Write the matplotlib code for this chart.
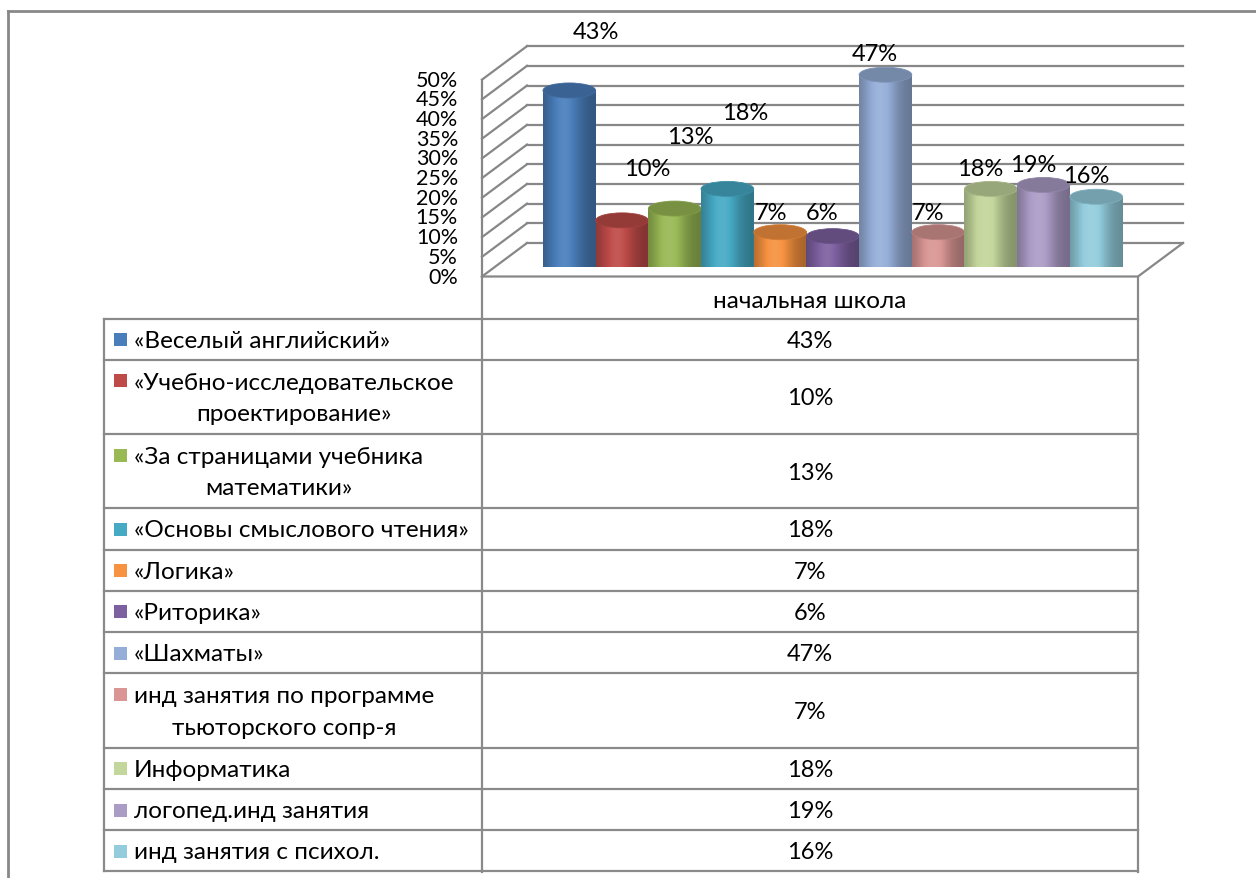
import numpy as np
import matplotlib
matplotlib.use("Agg")
import matplotlib.pyplot as plt
from matplotlib.patches import Ellipse, Polygon, Rectangle

# данные
categories = [
    "«Веселый английский»",
    "«Учебно-исследовательское\nпроектирование»",
    "«За страницами учебника\nматематики»",
    "«Основы смыслового чтения»",
    "«Логика»",
    "«Риторика»",
    "«Шахматы»",
    "инд занятия по программе\nтьюторского сопр-я",
    "Информатика",
    "логопед.инд занятия",
    "инд занятия с психол.",
]
values = [43, 10, 13, 18, 7, 6, 47, 7, 18, 19, 16]
colors = ["#4A7EBB", "#BE4B48", "#98B954", "#46AAC5", "#F69240", "#7D60A0",
          "#95AED8", "#D99694", "#C3D69B", "#AB9CC6", "#93CDDD"]
group_label = "начальная школа"
y_ticks = [0, 5, 10, 15, 20, 25, 30, 35, 40, 45, 50]

# смещения подписей (как у Excel), в единицах осей
label_dx = [0.51, 0.47, 0.30, 0.33, -0.17, -0.21, -0.20, -0.19, -0.21, -0.20, -0.19]
label_dy = [14.85, 13.3, 18.4, 19.3, 4.9, 5.9, 5.3, 4.9, 5.3, 5.1, 5.3]

FONT = ["Lato", "Open Sans", "DejaVu Sans"]
plt.rcParams["font.family"] = FONT

W, H = 1256, 879
fig = plt.figure(figsize=(W / 100, H / 100), dpi=100)

# фон / таблица в пикселях
bg = fig.add_axes([0, 0, 1, 1], zorder=0)
bg.set_xlim(0, W)
bg.set_ylim(H, 0)
bg.axis("off")

# область диаграммы (средняя плоскость глубины)
x0px, x1px, ytop, ybot = 504.5, 1160.5, 63.9, 260.75
ax = fig.add_axes([x0px / W, 1 - ybot / H, (x1px - x0px) / W, (ybot - ytop) / H], zorder=1)
ax.patch.set_alpha(0)
ax.axis("off")
xl, xr = -1.23, 11.22
ax.set_xlim(xl, xr)
ax.set_ylim(0, 50)
px_x = (x1px - x0px) / (xr - xl)
px_y = (ybot - ytop) / 50.0
ddx = 22.5 / px_x
ddy = 16.75 / px_y

gcol = "#878787"
glw = 1.6

# задняя стенка и боковая стенка
for t in y_ticks:
    ax.plot([xl + ddx, xr + ddx], [t + ddy, t + ddy], color=gcol, lw=glw, clip_on=False, zorder=1)
    ax.plot([xl - ddx, xl + ddx], [t - ddy, t + ddy], color=gcol, lw=glw, clip_on=False, zorder=1)
    ax.text(xl - ddx - 24 / px_x, t - ddy, f"{t}%", ha="right", va="center",
            fontsize=15.5, clip_on=False)
# пол и передняя грань
ax.plot([xl - ddx, xl - ddx], [-ddy, 50 - ddy], color=gcol, lw=glw, clip_on=False, zorder=1)
ax.plot([xl - ddx, xr - ddx, xr + ddx], [-ddy, -ddy, ddy], color=gcol, lw=glw, clip_on=False, zorder=1)


def shade(rgb, f):
    rgb = np.asarray(rgb)
    if f <= 1:
        return rgb * f
    return rgb + (1 - rgb) * (f - 1)


prof_t = np.linspace(0, 1, 64)
profile = 0.68 + 0.40 * np.exp(-((prof_t - 0.40) / 0.32) ** 2)

bw = 1.0
eh = 15 / px_y
for i, (v, c) in enumerate(zip(values, colors)):
    base = np.array(matplotlib.colors.to_rgb(c))
    grad = np.array([[shade(base, f) for f in profile]])
    zb = 2 + i * 0.1
    im = ax.imshow(grad, extent=(i - bw / 2, i + bw / 2, -eh / 2, v), aspect="auto",
                   interpolation="bilinear", zorder=zb, clip_on=False)
    th = np.linspace(np.pi, 2 * np.pi, 60)
    pts = [(i - bw / 2, v)] + [(i + bw / 2 * np.cos(a), eh / 2 * np.sin(a)) for a in th] + [(i + bw / 2, v)]
    clip = Polygon(pts, closed=True, transform=ax.transData)
    im.set_clip_path(clip)
    top = Ellipse((i, v), bw, eh, facecolor=shade(base, 0.78), edgecolor=shade(base, 0.85),
                  lw=0.6, zorder=zb + 0.05, clip_on=False)
    ax.add_patch(top)
    ax.text(i + label_dx[i], v + label_dy[i], f"{v}%", ha="center", va="center",
            fontsize=17, clip_on=False, zorder=5)

ax.set_xlim(xl, xr)
ax.set_ylim(0, 50)

# внешняя рамка
bg.plot([8, W], [12, 12], color="#888888", lw=2)
bg.plot([8, 8], [12, H], color="#888888", lw=2)

# таблица данных
tl, tm, tr = 104, 482, 1138
head_top, head_bot = 277.5, 319.5
tcol = "#8a8a8a"
bg.plot([tm, tm], [head_top, 873], color=tcol, lw=glw)
bg.plot([tr, tr], [head_top, 873], color=tcol, lw=glw)
bg.text((tm + tr) / 2, (head_top + head_bot) / 2 + 3, group_label, ha="center", va="center", fontsize=17.5)

y = head_bot
for name, v, c in zip(categories, values, colors):
    nlines = name.count("\n") + 1
    h = 41.3 if nlines == 1 else 74.2
    bg.plot([tl, tr], [y, y], color=tcol, lw=glw)
    yc = y + h / 2
    first = yc if nlines == 1 else yc - 16.5
    bg.add_patch(Rectangle((114, first - 6), 13, 13, facecolor=c, edgecolor="none"))
    bg.text(134, yc + 1, name, ha="left", va="center", multialignment="center",
            fontsize=17.5, linespacing=1.6)
    bg.text((tm + tr) / 2, yc + 1, f"{v}%", ha="center", va="center", fontsize=17)
    y += h
bg.plot([tl, tr], [y, y], color=tcol, lw=glw)
bg.plot([tl, tl], [head_bot, y], color=tcol, lw=glw)

fig.savefig("out.png", dpi=100)
